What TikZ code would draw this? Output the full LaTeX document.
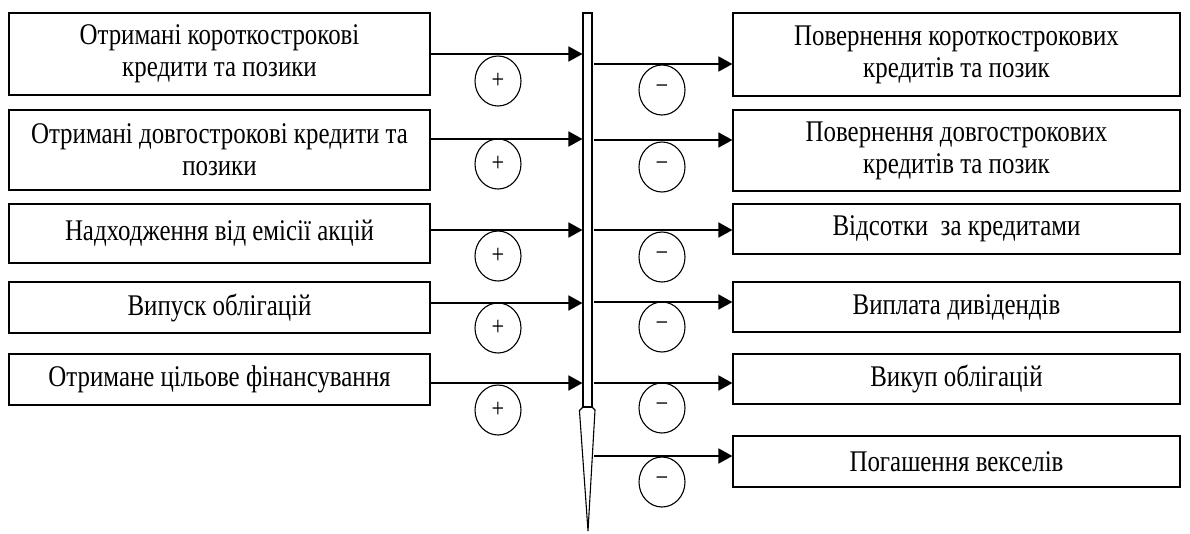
\documentclass[tikz,border=0pt]{standalone}
\usepackage{fontspec}
\setmainfont{Liberation Serif}[FakeStretch=0.83]
\usetikzlibrary{arrows.meta,shapes.geometric}

\tikzset{
  box/.style={draw, line width=1.2pt, inner sep=0pt, align=center,
    font=\fontsize{30}{32}\selectfont},
  lbox/.style={box, minimum width=421pt},
  rbox/.style={box, minimum width=447pt},
  sign/.style={draw, ellipse, line width=1.1pt, inner sep=0pt,
    minimum width=46pt, minimum height=50pt, font=\fontsize{27}{27}\selectfont},
  flow/.style={line width=1.8pt, -{Triangle[length=14pt,width=15pt]}}
}

\begin{document}
\begin{tikzpicture}[x=1pt,y=-1pt]
  \useasboundingbox (0,0) rectangle (1190,533);

  % spine
  \node[draw, line width=1.1pt, minimum width=9pt, minimum height=394pt, inner sep=0pt] (bar) at (587.5,210) {};
  \draw[line width=1.1pt] (bar.south west) -- ++(-3,3) -- (588,531) -- (595,410) -- (bar.south east);

  % inflows
  \node[lbox, minimum height=82pt] (l1) at (219.5,54) {Отримані короткострокові\\кредити та позики};
  \node[lbox, minimum height=80pt] (l2) at (219.5,150) {Отримані довгострокові кредити та\\позики};
  \node[lbox, minimum height=59pt] (l3) at (219.5,233.5) {Надходження від емісії акцій};
  \node[lbox, minimum height=51pt] (l4) at (219.5,307.5) {Випуск облігацій};
  \node[lbox, minimum height=51pt] (l5) at (219.5,379.5) {Отримане цільове фінансування};

  % outflows
  \node[rbox, minimum height=83pt] (r1) at (956.5,54.5) {Повернення короткострокових\\кредитів та позик};
  \node[rbox, minimum height=81pt] (r2) at (956.5,150.5) {Повернення довгострокових\\кредитів та позик};
  \node[rbox, minimum height=50pt] (r3) at (956.5,229) {Відсотки\ \ за кредитами};
  \node[rbox, minimum height=50pt] (r4) at (956.5,307) {Виплата дивідендів};
  \node[rbox, minimum height=50pt] (r5) at (956.5,379) {Викуп облігацій};
  \node[rbox, minimum height=51pt] (r6) at (956.5,461.5) {Погашення векселів};

  % arrows into the spine
  \draw[flow] (l1.east) -- (l1.east -| bar.west);
  \draw[flow] ([yshift=11pt]l2.east) -- ([yshift=11pt]l2.east -| bar.west);
  \draw[flow] ([yshift=3.5pt]l3.east) -- ([yshift=3.5pt]l3.east -| bar.west);
  \draw[flow] ([yshift=4.5pt]l4.east) -- ([yshift=4.5pt]l4.east -| bar.west);
  \draw[flow] ([yshift=-3.5pt]l5.east) -- ([yshift=-3.5pt]l5.east -| bar.west);

  % arrows out of the spine
  \coordinate (out) at (594,0);
  \draw[flow] ([yshift=-9.5pt]r1.west -| out) -- ([yshift=-9.5pt]r1.west);
  \draw[flow] ([yshift=10.5pt]r2.west -| out) -- ([yshift=10.5pt]r2.west);
  \draw[flow] ([yshift=-1pt]r3.west -| out) -- ([yshift=-1pt]r3.west);
  \draw[flow] ([yshift=5pt]r4.west -| out) -- ([yshift=5pt]r4.west);
  \draw[flow] ([yshift=-4pt]r5.west -| out) -- ([yshift=-4pt]r5.west);
  \draw[flow] ([yshift=5.5pt]r6.west -| out) -- ([yshift=5.5pt]r6.west);

  % signs
  \node[sign] (p1) at (498,81) {+};
  \node[sign] (p2) at (498,164) {+};
  \node[sign] (p3) at (498,256) {+};
  \node[sign] (p4) at (498,328) {+};
  \node[sign] (p5) at (498,410) {+};
  \node[sign] (m1) at (662,90) {−};
  \node[sign] (m2) at (662,167) {−};
  \node[sign] (m3) at (662,257) {−};
  \node[sign] (m4) at (662,327) {−};
  \node[sign] (m5) at (662,408) {−};
  \node[sign] (m6) at (662,482) {−};
\end{tikzpicture}
\end{document}
